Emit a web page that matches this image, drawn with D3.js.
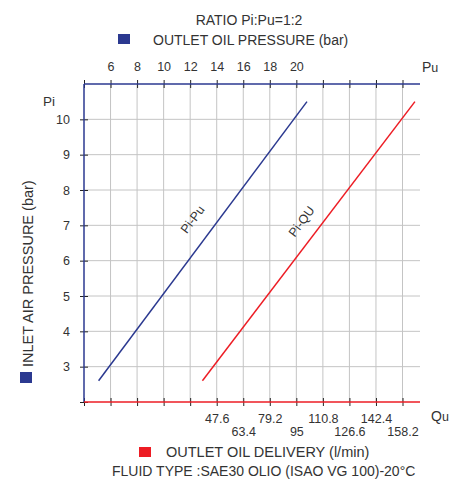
<!DOCTYPE html>
<html><head><meta charset="utf-8">
<script src="https://cdn.jsdelivr.net/npm/d3@7"></script>
<style>
html,body{margin:0;padding:0;background:#fff;}
svg{display:block;font-family:"Liberation Sans",Arial,sans-serif;}
</style></head>
<body>
<svg id="c" width="465" height="479"></svg>
<script>
// ---- data ----
const piTicks = [2, 3, 4, 5, 6, 7, 8, 9, 10];
const piLabels = [3, 4, 5, 6, 7, 8, 9, 10];
const puTicks = [4, 6, 8, 10, 12, 14, 16, 18, 20, 22, 24, 26, 28];
const puLabels = [6, 8, 10, 12, 14, 16, 18, 20];
const quTicks = [-31.4, -15.6, 0.2, 16, 31.8, 47.6, 63.4, 79.2, 95, 110.8, 126.6, 142.4, 158.2];
const quLabels = [47.6, 63.4, 79.2, 95, 110.8, 126.6, 142.4, 158.2];
const piPuPi = [2.6, 10.5];
const piPuPu = [5.1, 20.8];
const piQuPi = [2.6, 10.5];
const piQuQu = [39.1, 165.6];

// ---- layout ----
const BLUE = "#2b3990", RED = "#ed1c24", TXT = "#333", GRID = "#c4c4c4";
const L = 84, R = 420, T = 84, B = 402;
const svg = d3.select("#c");

const x = d3.scaleLinear().domain([4, 28]).range([L, 402.5]);
const xq = d3.scaleLinear().domain([-31.4, 158.2]).range([L, 402.5]);
const y = d3.scaleLinear().domain([2, 11]).range([B, T]);

// grid
const g = svg.append("g");
g.selectAll("line.v").data(puTicks.slice(1)).join("line")
  .attr("x1", d => x(d)).attr("x2", d => x(d)).attr("y1", T).attr("y2", B)
  .attr("stroke", GRID).attr("stroke-width", 1);
g.selectAll("line.h").data(piTicks.slice(1)).join("line")
  .attr("x1", L).attr("x2", R).attr("y1", d => y(d)).attr("y2", d => y(d))
  .attr("stroke", GRID).attr("stroke-width", 1);

// top axis (Pu)
const topAx = svg.append("g").attr("transform", `translate(0,${T})`)
  .call(d3.axisTop(x).tickValues(puTicks).tickSize(4).tickPadding(9)
    .tickFormat(d => puLabels.includes(d) ? d : ""));
topAx.select(".domain").remove();
topAx.selectAll(".tick line").attr("y1", -4).attr("y2", 4).attr("stroke", "#222");
topAx.selectAll("text").attr("font-size", 12.5).attr("fill", TXT).attr("font-family", "Liberation Sans, Arial, sans-serif");

// bottom axis (Qu)
const botAx = svg.append("g").attr("transform", `translate(0,${B})`)
  .call(d3.axisBottom(xq).tickValues(quTicks).tickSize(4)
    .tickFormat(d => quLabels.includes(d) ? d : ""));
botAx.select(".domain").remove();
botAx.selectAll(".tick line").attr("y1", -4).attr("y2", 4).attr("stroke", "#222");
botAx.selectAll(".tick text").attr("font-size", 12.5).attr("fill", TXT)
  .attr("font-family", "Liberation Sans, Arial, sans-serif")
  .attr("dy", null)
  .attr("y", d => (quLabels.indexOf(d) % 2 === 0) ? 21 : 34);

// left axis (Pi)
const leftAx = svg.append("g").attr("transform", `translate(${L},0)`)
  .call(d3.axisLeft(y).tickValues(piTicks).tickSize(4).tickPadding(10)
    .tickFormat(d => piLabels.includes(d) ? d : ""));
leftAx.select(".domain").remove();
leftAx.selectAll(".tick line").attr("x1", -4).attr("x2", 4).attr("stroke", "#222");
leftAx.selectAll("text").attr("font-size", 12.5).attr("fill", TXT).attr("font-family", "Liberation Sans, Arial, sans-serif");

// axis lines
svg.append("line").attr("x1", L).attr("x2", R).attr("y1", T).attr("y2", T).attr("stroke", BLUE).attr("stroke-width", 1.5);
svg.append("line").attr("x1", L).attr("x2", L).attr("y1", T).attr("y2", B).attr("stroke", BLUE).attr("stroke-width", 1.5);
svg.append("line").attr("x1", L).attr("x2", R).attr("y1", B).attr("y2", B).attr("stroke", RED).attr("stroke-width", 1.5);

// series lines
const blueLine = d3.line().x(d => x(d[1])).y(d => y(d[0]));
svg.append("path").datum(d3.zip(piPuPi, piPuPu)).attr("d", blueLine)
  .attr("fill", "none").attr("stroke", BLUE).attr("stroke-width", 1.5);
const redLine = d3.line().x(d => xq(d[1])).y(d => y(d[0]));
svg.append("path").datum(d3.zip(piQuPi, piQuQu)).attr("d", redLine)
  .attr("fill", "none").attr("stroke", RED).attr("stroke-width", 1.5);

// line labels
const ang = -Math.atan2(y(piPuPi[0]) - y(piPuPi[1]), x(piPuPu[1]) - x(piPuPu[0])) * 180 / Math.PI;
svg.append("text").attr("transform", `translate(196,222) rotate(${ang})`)
  .attr("text-anchor", "middle").attr("font-size", 12.5).attr("fill", TXT).text("Pi-Pu");
svg.append("text").attr("transform", `translate(305,224) rotate(${ang})`)
  .attr("text-anchor", "middle").attr("font-size", 12.5).attr("fill", TXT).text("Pi-QU");

// axis unit labels
svg.append("text").attr("x", 422).attr("y", 72).attr("font-size", 14).attr("fill", TXT)
  .html('P<tspan font-size="12.5">u</tspan>');
svg.append("text").attr("x", 431).attr("y", 421).attr("font-size", 14).attr("fill", TXT)
  .html('Q<tspan font-size="12.5">u</tspan>');
svg.append("text").attr("x", 43).attr("y", 106).attr("font-size", 13.5).attr("fill", TXT).text("Pi");

// titles / legends
svg.append("text").attr("x", 249).attr("y", 25).attr("text-anchor", "middle")
  .attr("font-size", 14).attr("fill", TXT).text("RATIO Pi:Pu=1:2");
svg.append("rect").attr("x", 118).attr("y", 34).attr("width", 12).attr("height", 10).attr("fill", BLUE);
svg.append("text").attr("x", 153).attr("y", 45).attr("font-size", 14).attr("fill", TXT)
  .text("OUTLET OIL PRESSURE (bar)");

svg.append("text").attr("transform", "translate(33,367) rotate(-90)").attr("text-anchor", "start")
  .attr("font-size", 14.5).attr("fill", TXT).text("INLET AIR PRESSURE (bar)");
svg.append("rect").attr("x", 20).attr("y", 372).attr("width", 12).attr("height", 11).attr("fill", BLUE);

svg.append("rect").attr("x", 139).attr("y", 447).attr("width", 12).attr("height", 10).attr("fill", RED);
svg.append("text").attr("x", 166).attr("y", 457).attr("font-size", 14.5).attr("fill", TXT)
  .text("OUTLET OIL DELIVERY (l/min)");
svg.append("text").attr("x", 112).attr("y", 476).attr("font-size", 14).attr("fill", TXT)
  .text("FLUID TYPE :SAE30 OLIO (ISAO VG 100)-20°C");
</script>
</body></html>
